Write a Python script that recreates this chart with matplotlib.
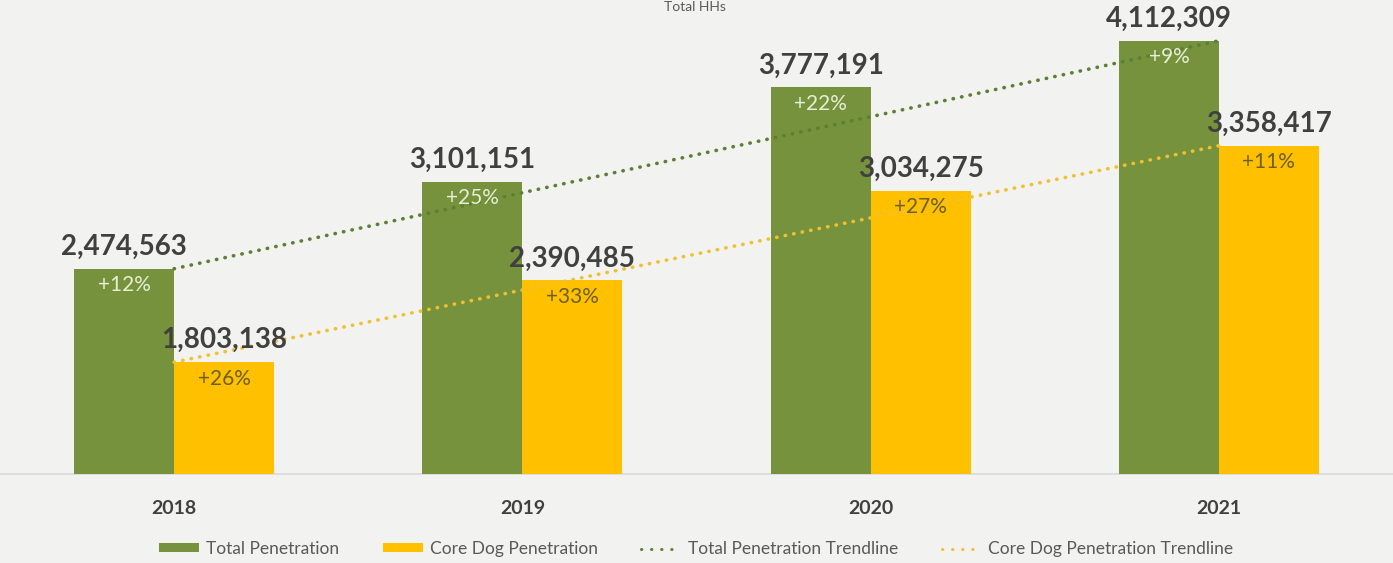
import matplotlib
matplotlib.use("Agg")
import matplotlib.pyplot as plt
from matplotlib.patches import Patch
from matplotlib.lines import Line2D

# ---- data ----
years = ["2018", "2019", "2020", "2021"]
total_penetration = [2474563, 3101151, 3777191, 4112309]
core_dog_penetration = [1803138, 2390485, 3034275, 3358417]
total_growth = ["+12%", "+25%", "+22%", "+9%"]
core_dog_growth = ["+26%", "+33%", "+27%", "+11%"]
# trendline end points (first and last year)
total_trend = [2474563, 4112309]
core_dog_trend = [1803138, 3358417]

# ---- style ----
BG = "#f2f2f1"
GREEN = "#76923c"
GOLD = "#ffc000"
GREEN_TREND = "#5b7f34"
GOLD_TREND = "#f0c030"
LABEL = "#404040"
FONT = "Lato"

W, H = 1393, 563
fig = plt.figure(figsize=(W / 100, H / 100), dpi=100)
fig.patch.set_facecolor(BG)

ax = fig.add_axes([0, 1 - 474 / H, 1, 474 / H])
ax.set_facecolor(BG)

x = list(range(len(years)))
bw = 0.287

green_bars = ax.bar([i - bw / 2 for i in x], total_penetration, width=bw,
                    color=GREEN, zorder=2)
gold_bars = ax.bar([i + bw / 2 for i in x], core_dog_penetration, width=bw,
                   color=GOLD, zorder=2)

# trendlines
ax.plot([x[0], x[-1]], total_trend, color=GREEN_TREND, lw=2.6,
        linestyle=(0, (0.1, 2.3)), dash_capstyle="round", zorder=3)
ax.plot([x[0], x[-1]], core_dog_trend, color=GOLD_TREND, lw=2.6,
        linestyle=(0, (0.1, 2.3)), dash_capstyle="round", zorder=3)

ax.set_xlim(-0.5, 3.5)
ax.set_ylim(1_000_000, 4_405_000)
for s in ax.spines.values():
    s.set_visible(False)
ax.axhline(1_000_000, color="#d9d9d9", lw=1.2, zorder=1, clip_on=False)
ax.set_yticks([])
ax.set_xticks(x)
ax.set_xticklabels(years, fontsize=14, fontweight="bold", color=LABEL,
                   family=FONT)
ax.tick_params(axis="x", length=0, pad=19)

# value labels and growth labels
for bars, vals, growth, gcol in ((green_bars, total_penetration, total_growth, "#e6eed4"),
                                 (gold_bars, core_dog_penetration, core_dog_growth, "#6e5e2a")):
    for b, v, g in zip(bars, vals, growth):
        cx = b.get_x() + b.get_width() / 2
        ax.annotate(f"{v:,}", (cx, v), xytext=(0, 10), textcoords="offset points",
                    ha="center", va="baseline", fontsize=20, fontweight="bold",
                    color=LABEL, family=FONT, zorder=5)
        ax.annotate(g, (cx, v), xytext=(0, -12), textcoords="offset points",
                    ha="center", va="center", fontsize=15, color=gcol,
                    family=FONT, zorder=5)

# heading at the top edge
fig.text(0.499, 1 - 1 / H, "Total HHs", ha="center", va="top",
         fontsize=10, color="#595959", family=FONT)

handles = [
    Patch(facecolor=GREEN, label="Total Penetration"),
    Patch(facecolor=GOLD, label="Core Dog Penetration"),
    Line2D([], [], color=GREEN_TREND, lw=2.2, linestyle=(0, (0.1, 3.2)),
           dash_capstyle="round", label="Total Penetration Trendline"),
    Line2D([], [], color=GOLD_TREND, lw=2.2, linestyle=(0, (0.1, 3.2)),
           dash_capstyle="round", label="Core Dog Penetration Trendline"),
]
leg = fig.legend(handles=handles, loc="center", ncol=4, frameon=False,
                 bbox_to_anchor=(0.5, 1 - 549 / H),
                 prop={"family": FONT, "size": 12.5},
                 handlelength=2.3, handleheight=0.45, handletextpad=0.4,
                 columnspacing=2.5)
for t in leg.get_texts():
    t.set_color("#595959")

fig.savefig("out.png", dpi=100, facecolor=BG)
